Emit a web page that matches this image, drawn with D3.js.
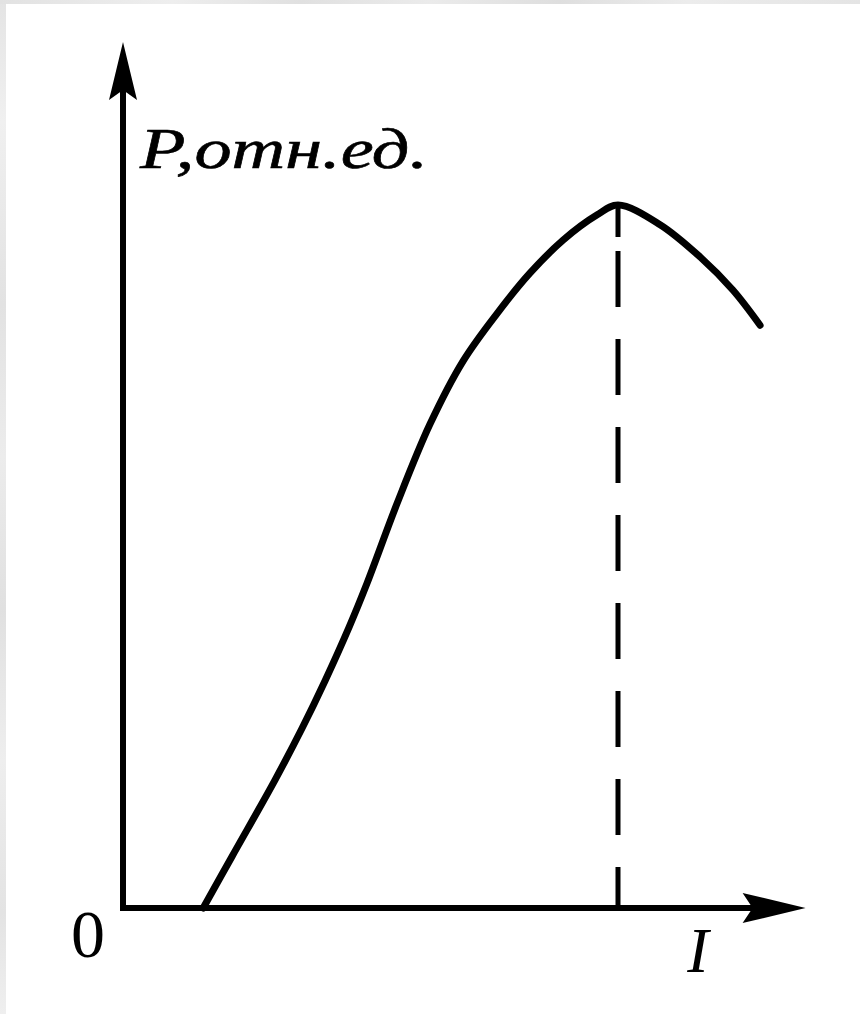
<!DOCTYPE html>
<html>
<head>
<meta charset="utf-8">
<script src="https://cdn.jsdelivr.net/npm/d3@7/dist/d3.min.js"></script>
<style>
  html, body { margin: 0; padding: 0; background: #ffffff; }
  svg { display: block; }
</style>
</head>
<body>
<script>
// Power vs. current: P in relative units, I normalised to the current at maximum power.
const currentI = [0.162, 0.220, 0.307, 0.362, 0.408, 0.457, 0.493, 0.554, 0.620, 0.687, 0.756, 0.822, 0.889, 0.958, 1.0, 1.085, 1.166, 1.232, 1.287];
const powerP   = [0.0, 0.073, 0.182, 0.256, 0.323, 0.400, 0.462, 0.576, 0.688, 0.778, 0.846, 0.903, 0.950, 0.986, 1.0, 0.972, 0.926, 0.879, 0.829];
const peakI = 1.0;
const peakP = 1.0;
const axisEndI = 1.379;   // x axis runs to here (arrow tip)
const axisEndP = 1.232;   // y axis runs to here (arrow tip)
const yAxisLabel = "P,отн.ед.";
const xAxisLabel = "I";
const originLabel = "0";

const W = 860, H = 1014;
const svg = d3.select("body").append("svg").attr("width", W).attr("height", H);

// light grey frame along the left and top edges
const defs = svg.append("defs");
const gl = defs.append("linearGradient").attr("id", "frameV").attr("x1", 0).attr("y1", 0).attr("x2", 0).attr("y2", 1);
[[0, "#e4e4e4"], [0.12, "#f0f0f0"], [0.3, "#e2e2e2"], [0.45, "#ececec"], [0.6, "#e0e0e0"], [0.75, "#eeeeee"], [0.9, "#e3e3e3"], [1, "#efefef"]]
  .forEach(([o, c]) => gl.append("stop").attr("offset", o).attr("stop-color", c));
const gt = defs.append("linearGradient").attr("id", "frameH").attr("x1", 0).attr("y1", 0).attr("x2", 1).attr("y2", 0);
[[0, "#e2e2e2"], [0.2, "#eeeeee"], [0.35, "#e0e0e0"], [0.5, "#ebebeb"], [0.65, "#dedede"], [0.8, "#ececec"], [1, "#e4e4e4"]]
  .forEach(([o, c]) => gt.append("stop").attr("offset", o).attr("stop-color", c));
svg.append("rect").attr("x", 0).attr("y", 0).attr("width", 6).attr("height", H).attr("fill", "url(#frameV)");
svg.append("rect").attr("x", 0).attr("y", 0).attr("width", W).attr("height", 4).attr("fill", "url(#frameH)");

const x = d3.scaleLinear().domain([0, peakI]).range([123, 618]);
const y = d3.scaleLinear().domain([0, peakP]).range([908, 205]);

const ink = "#000000";

// axes (no ticks, just the domain lines)
const xAxisScale = x.copy().domain([0, axisEndI]).range([x(0), x(axisEndI) - 30]);
const yAxisScale = y.copy().domain([0, axisEndP]).range([y(0), y(axisEndP) + 30]);

const gx = svg.append("g").attr("transform", `translate(0,${y(0)})`)
  .call(d3.axisBottom(xAxisScale).tickValues([]).tickSizeOuter(0));
const gy = svg.append("g").attr("transform", `translate(${x(0)},0)`)
  .call(d3.axisLeft(yAxisScale).tickValues([]).tickSizeOuter(0));
[gx, gy].forEach(g => g.select(".domain")
  .attr("stroke", ink).attr("stroke-width", 6).attr("stroke-linecap", "butt"));
gx.select(".domain").attr("d", `M${x(0) - 3},0H${x(axisEndI) - 30}`);
gy.select(".domain").attr("d", `M0,${y(0) + 3}V${y(axisEndP) + 30}`);

// arrowheads
const tipX = [x(axisEndI), y(0)];
svg.append("path")
  .attr("d", `M${tipX[0]},${tipX[1]} L${tipX[0] - 63},${tipX[1] - 15} L${tipX[0] - 53},${tipX[1]} L${tipX[0] - 63},${tipX[1] + 15} Z`)
  .attr("fill", ink);
const tipY = [x(0), y(axisEndP)];
svg.append("path")
  .attr("d", `M${tipY[0]},${tipY[1]} L${tipY[0] - 14},${tipY[1] + 58} L${tipY[0]},${tipY[1] + 48} L${tipY[0] + 14},${tipY[1] + 58} Z`)
  .attr("fill", ink);

// dashed drop line at maximum power
svg.append("line")
  .attr("x1", x(peakI)).attr("x2", x(peakI))
  .attr("y1", y(peakP)).attr("y2", y(0))
  .attr("stroke", ink).attr("stroke-width", 5)
  .attr("stroke-dasharray", "32,14,56,32,56,32,56,32,56,32,56,32,56,32,56,32,56,32");

// power curve
const pts = currentI.map((v, i) => [v, powerP[i]]);
svg.append("path")
  .datum(pts)
  .attr("d", d3.line().x(d => x(d[0])).y(d => y(d[1])).curve(d3.curveCatmullRom.alpha(0.5)))
  .attr("fill", "none").attr("stroke", ink).attr("stroke-width", 7)
  .attr("stroke-linecap", "round").attr("stroke-linejoin", "round");

// labels
svg.append("text")
  .attr("x", 140).attr("y", 168)
  .attr("font-family", "'Liberation Serif', 'DejaVu Serif', serif")
  .attr("font-style", "italic").attr("font-size", 56)
  .attr("textLength", 288).attr("lengthAdjust", "spacingAndGlyphs")
  .attr("stroke", ink).attr("stroke-width", 0.6)
  .attr("fill", ink).text(yAxisLabel);

svg.append("text")
  .attr("x", 88).attr("y", 957).attr("text-anchor", "middle")
  .attr("font-family", "'Liberation Serif', 'DejaVu Serif', serif")
  .attr("font-size", 68)
  .attr("fill", ink).text(originLabel);

svg.append("text")
  .attr("x", 698).attr("y", 972).attr("text-anchor", "middle")
  .attr("font-family", "'Liberation Serif', 'DejaVu Serif', serif")
  .attr("font-style", "italic").attr("font-size", 64)
  .attr("fill", ink).text(xAxisLabel);
</script>
</body>
</html>
